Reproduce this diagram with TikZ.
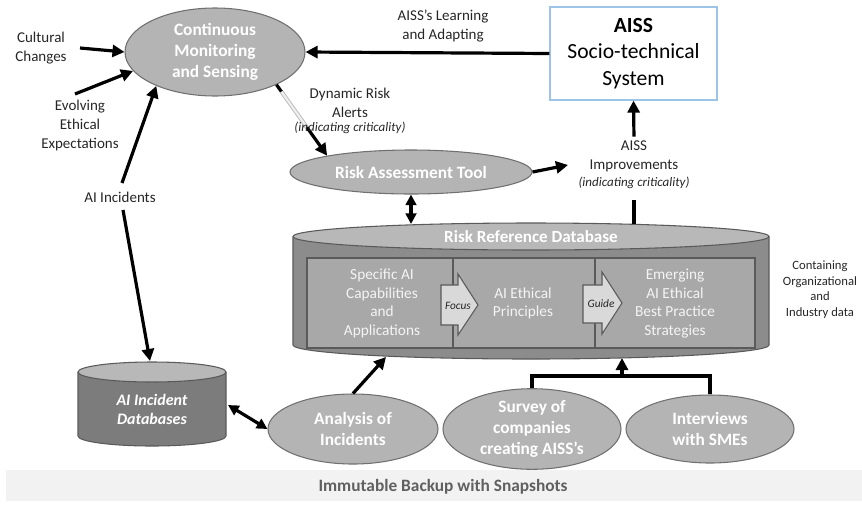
\documentclass[tikz,border=0pt]{standalone}
\usepackage{fontspec}
\setmainfont{Carlito}
\usetikzlibrary{arrows.meta,shapes.geometric,calc}
\definecolor{ellfill}{HTML}{B4B4B4}
\definecolor{ellline}{HTML}{707070}
\definecolor{cylbody}{HTML}{8C8C8C}
\definecolor{cyltop}{HTML}{B8B8B8}
\definecolor{cylline}{HTML}{5A5A5A}
\definecolor{innerfill}{HTML}{A8A8A8}
\definecolor{aibody}{HTML}{7C7C7C}
\definecolor{arrfill}{HTML}{D9D9D9}
\definecolor{boxline}{HTML}{9DC3E6}
\definecolor{bandfill}{HTML}{F2F2F2}
\definecolor{bandtext}{HTML}{606060}
\definecolor{txt}{HTML}{262626}
\definecolor{intxt}{HTML}{F4F4F4}
\begin{document}
\begin{tikzpicture}[x=0.75pt,y=-0.75pt,
  ell/.style={ellipse, draw=ellline, line width=0.8pt, fill=ellfill, inner sep=0pt,
    text=white, font=\bfseries\fontsize{13}{15.75}\selectfont, align=center},
  lbl/.style={text=txt, font=\fontsize{11.25}{14.25}\selectfont, align=center, inner sep=1pt},
  itl/.style={text=txt, font=\itshape\fontsize{9.75}{12}\selectfont, inner sep=1pt},
  intext/.style={text=intxt, font=\fontsize{11.5}{13.9}\selectfont, align=center, inner sep=0pt},
  arr/.style={line width=2.4pt, -{Triangle[length=9pt,width=9pt]}},
  darr/.style={line width=2.4pt, {Triangle[length=8pt,width=8pt]}-{Triangle[length=8pt,width=8pt]}},
  ln/.style={line width=2.4pt, line join=miter},
  bigarrow/.style={fill=arrfill, draw=cylline, line width=0.8pt, line join=miter}
]
\useasboundingbox (0,0) rectangle (862,504);

% backup band
\fill[bandfill] (6,470) rectangle (862,501);
\node[text=bandtext, font=\bfseries\fontsize{13}{16}\selectfont] (backup) at (443,487) {Immutable Backup with Snapshots};

% Risk Reference Database cylinder
\fill[cylbody] (293,236.5) -- (293,345) arc[start angle=180,end angle=0,x radius=238,y radius=14] -- (769,236.5) -- cycle;
\draw[cylline, line width=0.8pt] (293,236.5) -- (293,345) arc[start angle=180,end angle=0,x radius=238,y radius=14] -- (769,236.5);
\filldraw[fill=cyltop, draw=cylline, line width=0.8pt] (531,236.5) ellipse [x radius=238, y radius=13.5];
\filldraw[fill=innerfill, draw=cylline, line width=1pt] (307,258) rectangle (755,348);
\draw[cylline, line width=1pt] (453,258) -- (453,348);
\draw[cylline, line width=1pt] (595,258) -- (595,348);
\node[text=white, font=\bfseries\fontsize{12.8}{15}\selectfont] (rrdt) at (531,237) {Risk Reference Database};
\node[intext] (spec) at (382,303.5) {Specific AI\\Capabilities\\and\\Applications};
\node[intext] (eth) at (523,303.5) {AI Ethical\\Principles};
\node[intext] (emer) at (675,303.5) {Emerging\\AI Ethical\\Best Practice\\Strategies};
\draw[bigarrow] (441,285) -- (458,285) -- (458,274) -- (478,305) -- (458,335) -- (458,325) -- (441,325) -- cycle;
\node[text=txt, font=\itshape\fontsize{8.5}{10}\selectfont, inner sep=0pt] (focus) at (458,306) {Focus};
\draw[bigarrow] (583,285) -- (602,285) -- (602,272) -- (622,303) -- (602,334) -- (602,323) -- (583,323) -- cycle;
\node[text=txt, font=\itshape\fontsize{8.5}{10}\selectfont, inner sep=0pt] (guide) at (601,304) {Guide};
\node[text=txt, font=\fontsize{9.5}{11.6}\selectfont, align=center] (cont) at (820,289.5) {Containing\\Organizational\\and\\Industry data};

% AI Incident Databases cylinder
\fill[aibody] (78,372) -- (78,436) arc[start angle=180,end angle=0,x radius=74,y radius=10] -- (226,372) -- cycle;
\draw[cylline, line width=0.8pt] (78,372) -- (78,436) arc[start angle=180,end angle=0,x radius=74,y radius=10] -- (226,372);
\filldraw[fill=cyltop, draw=cylline, line width=0.8pt] (152,372) ellipse [x radius=74, y radius=10];
\node[text=white, font=\bfseries\itshape\fontsize{12}{14.25}\selectfont, align=center] (aidbt) at (152,409.5) {AI Incident\\Databases};

% ellipses
\node[ell, minimum width=135pt, minimum height=66pt] (cms) at (215,52) {Continuous\\Monitoring\\and Sensing};
\node[ell, minimum width=181.5pt, minimum height=33pt] (ra) at (411,172) {Risk Assessment Tool};
\node[ell, minimum width=127.5pt, minimum height=52.5pt] (ana) at (353,429) {Analysis of\\Incidents};
\node[ell, minimum width=133.5pt, minimum height=51pt] (sur) at (532,429) {Survey of\\companies\\creating AISS’s};
\node[ell, minimum width=126pt, minimum height=51pt] (int) at (710,429) {Interviews\\with SMEs};

% AISS box
\node[draw=boxline, line width=0.9pt, minimum width=125.25pt, minimum height=69.75pt, align=center,
  text=black, font=\fontsize{16.2}{20}\selectfont, inner sep=0pt] (aiss) at (633.5,53.5)
  {{\bfseries AISS}\\Socio-technical\\System};

% labels
\node[lbl] (cult) at (41,48.5) {Cultural\\Changes};
\node[lbl] (evol) at (80,125.5) {Evolving\\Ethical\\Expectations};
\node[lbl] (aiinc) at (120,197) {AI Incidents};
\node[lbl] (learn) at (443,26) {AISS’s Learning\\and Adapting};
\node[lbl] (dyn) at (350,102.5) {Dynamic Risk\\Alerts};
\node[lbl] (impa) at (634,156.5) {AISS\\Improvements};
\node[itl] (impi) at (634,183) {(indicating criticality)};

% coordinates for free ends
\coordinate (cultE) at (80,48);
\coordinate (evolN) at (75,94);
\coordinate (aiincT) at (122,183);
\coordinate (aiincB) at (123,210);
\coordinate (aidbN) at (150,361);
\coordinate (aidbE) at (228,405);
\coordinate (rrdN1) at (411,224);
\coordinate (rrdN2) at (634,224);
\coordinate (rrdS1) at (386,357);
\coordinate (rrdS2) at (622,358);
\coordinate (jn) at (622,376);
\coordinate (impW) at (568,165);
\coordinate (dtop) at ($(cms.-28)!0.1!(ra.169)$);
\coordinate (dmid) at ($(cms.-28)!0.6!(ra.169)$);

% connectors
\draw[arr] (cultE) -- (cms.west);
\draw[arr] (evolN) -- (cms.193);
\draw[arr] (aiincT) -- (cms.210);
\draw[arr] (aiincB) -- (aidbN);
\draw[arr] (aiss.west) -- (cms.east);
\draw[line width=2.4pt, black] (cms.-28) -- (dtop);
\draw[line width=3pt, gray!55] (dtop) -- (dmid);
\draw[line width=1.6pt, gray!12] (dtop) -- (dmid);
\draw[arr] (dmid) -- (ra.169);
\node[itl] (dyni) at (350,128) {(indicating criticality)};
\draw[arr] (ra.east) -- (impW);
\draw[darr] (ra.south) -- (rrdN1);
\draw[ln, shorten >=7pt] (rrdN2) -- (impi.south);
\draw[arr, shorten <=2pt] (impa.north) -- (aiss.south);
\draw[darr] (aidbE) -- (ana.west);
\draw[arr] (ana.north) -- (rrdS1);
\draw[ln] (sur.north) |- (jn) -| (int.north);
\draw[arr] (jn) -- (rrdS2);
\end{tikzpicture}
\end{document}
